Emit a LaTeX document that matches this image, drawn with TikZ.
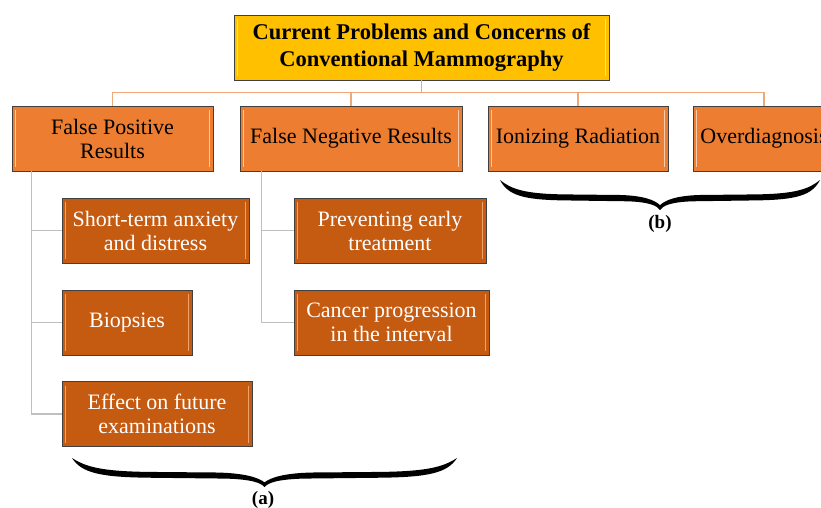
\documentclass[tikz,border=0pt]{standalone}
\usepackage{fontspec}
\setmainfont{Liberation Serif}
\definecolor{goldfill}{HTML}{FFC000}
\definecolor{goldhi}{HTML}{FFE07A}
\definecolor{lvlone}{HTML}{ED7D31}
\definecolor{lvlonehi}{HTML}{F8CBAD}
\definecolor{lvltwo}{HTML}{C55A11}
\definecolor{lvltwohi}{HTML}{F1A36E}
\definecolor{edgegray}{HTML}{404040}
\definecolor{busline}{HTML}{F1A878}
\definecolor{stemgray}{HTML}{BFBFBF}
\tikzset{
  basebox/.style={draw=edgegray, line width=0.9pt, inner sep=2pt, align=center,
    font=\fontsize{22}{24}\selectfont},
  bevel/.style={path picture={
    \draw[#1, line width=1.6pt]
      ([xshift=3.5pt,yshift=-4pt]path picture bounding box.north west) --
      ([xshift=3.5pt,yshift=4pt]path picture bounding box.south west);
    \draw[#1, line width=1.6pt]
      ([xshift=-3.5pt,yshift=-4pt]path picture bounding box.north east) --
      ([xshift=-3.5pt,yshift=4pt]path picture bounding box.south east);}},
  titlebox/.style={basebox, fill=goldfill, bevel=goldhi,
    font=\bfseries\fontsize{22.5}{27}\selectfont, text=black},
  onebox/.style={basebox, fill=lvlone, bevel=lvlonehi, text=black,
    minimum height=65pt},
  twobox/.style={basebox, fill=lvltwo, bevel=lvltwohi, text=white,
    minimum height=65pt},
  busconn/.style={draw=busline, line width=1.3pt},
  stemconn/.style={draw=stemgray, line width=1.1pt},
  bracelabel/.style={font=\bfseries\fontsize{19}{22}\selectfont, text=black},
  tbrace/.pic={
    \fill[black] (-1,0) .. controls (-0.95,0.52) and (-0.85,0.66) .. (-0.6,0.68)
      -- (-0.2,0.71) .. controls (-0.06,0.74) and (-0.02,0.86) .. (0,1)
      .. controls (0.02,0.86) and (0.06,0.74) .. (0.2,0.71)
      -- (0.6,0.68) .. controls (0.85,0.66) and (0.95,0.52) .. (1,0)
      .. controls (0.93,0.3) and (0.85,0.46) .. (0.6,0.48)
      -- (0.25,0.5) .. controls (0.1,0.52) and (0.03,0.68) .. (0,0.84)
      .. controls (-0.03,0.68) and (-0.1,0.52) .. (-0.25,0.5)
      -- (-0.6,0.48) .. controls (-0.85,0.46) and (-0.93,0.3) .. (-1,0) -- cycle;
  }
}
\begin{document}
\begin{tikzpicture}[x=1pt,y=-1pt]
\useasboundingbox[fill=white] (0,0) rectangle (821,508);
\clip (0,0) rectangle (821,508);

% title
\node[titlebox, minimum width=375pt, minimum height=65pt] (top) at (421.5,47.5)
  {Current Problems and Concerns of\\Conventional Mammography};

% level one
\node[onebox, minimum width=201pt] (fp) at (112.5,138.5) {False Positive\\Results};
\node[onebox, minimum width=222pt] (fn) at (351,138.5) {False Negative Results};
\node[onebox, minimum width=180pt] (ion) at (578,138.5) {Ionizing Radiation};
\node[onebox, minimum width=142pt] (ovd) at (764,138.5) {Overdiagnosis};

% level two
\node[twobox, minimum width=187pt] (st) at (155.5,230.5) {Short-term anxiety\\and distress};
\node[twobox, minimum width=130pt] (bio) at (127,322.5) {Biopsies};
\node[twobox, minimum width=190pt] (eff) at (157,414) {Effect on future\\examinations};
\node[twobox, minimum width=192pt] (prev) at (390,230.5) {Preventing early\\treatment};
\node[twobox, minimum width=195pt] (canc) at (391.5,322.5) {Cancer progression\\in the interval};

% bus connectors
\coordinate (bus) at (0,92.5);
\draw[busconn] (top.south) -- (top.south |- bus);
\draw[busconn] (fp.north) -- (fp.north |- bus) -- (ovd.north |- bus) -- (ovd.north);
\draw[busconn] (fn.north) -- (fn.north |- bus);
\draw[busconn] (ion.north) -- (ion.north |- bus);

% stems
\draw[stemconn] ([xshift=20pt]fp.south west) |- (eff.west);
\draw[stemconn] ([xshift=20pt]fp.south west) |- (st.west);
\draw[stemconn] ([xshift=20pt]fp.south west) |- (bio.west);
\draw[stemconn] ([xshift=22pt]fn.south west) |- (canc.west);
\draw[stemconn] ([xshift=22pt]fn.south west) |- (prev.west);

% braces
\pic[xscale=192.5, yscale=29] (bracea) at (264.5,458) {tbrace};
\pic[xscale=160, yscale=30] (braceb) at (660,180) {tbrace};
\node[bracelabel] (la) at (263,500) {(a)};
\node[bracelabel] (lb) at (660,224) {(b)};
\end{tikzpicture}
\end{document}
